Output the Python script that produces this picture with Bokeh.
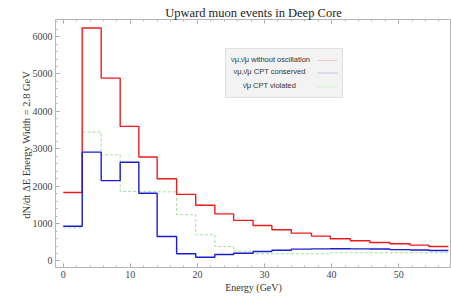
from bokeh.plotting import figure
from bokeh.models import BoxAnnotation, LinearAxis, FixedTicker, Label
from bokeh.embed import file_html
from bokeh.resources import INLINE

# ---- data ----
bin_edges = [0, 2.83, 5.66, 8.49, 11.27, 14.0, 16.9, 19.75, 22.6, 25.4, 28.3,
             31.1, 34.0, 37.0, 39.8, 42.8, 45.7, 48.7, 51.7, 54.5, 57.4]
no_osc = [1830, 6230, 4890, 3600, 2780, 2200, 1780, 1490, 1260, 1085,
          950, 835, 745, 665, 595, 540, 493, 460, 425, 388]
cpt_conserved = [930, 2910, 2150, 2640, 1810, 655, 193, 102, 174, 209,
                 254, 289, 316, 325, 328, 325, 320, 305, 295, 280]
cpt_violated = [885, 3445, 2840, 1860, 1860, 1850, 1240, 700, 388, 262,
                193, 193, 193, 193, 220, 220, 220, 220, 220, 220]
x_ticks = [0, 10, 20, 30, 40, 50]
y_ticks = [0, 1000, 2000, 3000, 4000, 5000, 6000]

title_text = "Upward muon events in Deep Core"
x_label = "Energy (GeV)"
y_label = "dN/dt \u0394E  Energy Width = 2.8 GeV"
legend_labels = ["\u03bd\u03bc,\u03bd\u0304\u03bc without oscillation",
                 "\u03bd\u03bc,\u03bd\u0304\u03bc  CPT conserved",
                 "\u03bd\u0304\u03bc  CPT violated"]

RED = "#ec1c1c"
BLUE = "#1c1cd4"
GREEN = "#9ee39e"
SERIF = "Liberation Serif"
SANS = "Liberation Sans"

p = figure(width=451, height=298, x_range=(-1.15, 57.87), y_range=(-174, 6457),
           output_backend="svg", toolbar_location=None,
           min_border_left=55, min_border_right=0, min_border_top=19, min_border_bottom=31)
p.xaxis.visible = False
p.yaxis.visible = False
p.grid.visible = False
p.outline_line_color = "#b5b5b5"
p.outline_line_width = 1
p.background_fill_color = "white"
p.border_fill_color = "white"

p.title.text = title_text
p.title.text_font = SERIF
p.title.text_font_size = "12.5px"
p.title.text_font_style = "normal"
p.title.text_color = "#222222"
p.title.align = "center"
p.title.standoff = 0
p.title.offset = 0


def style_axis(ax):
    ax.axis_line_color = None
    ax.major_tick_in = 4
    ax.major_tick_out = 0
    ax.minor_tick_in = 2
    ax.minor_tick_out = 0
    ax.major_tick_line_color = "#a0a0a0"
    ax.minor_tick_line_color = "#b8b8b8"
    ax.major_label_text_font = SERIF
    ax.major_label_text_color = "#444444"
    ax.major_label_text_font_size = "10px"
    ax.major_label_standoff = 3
    ax.axis_label_text_font = SERIF
    ax.axis_label_text_font_style = "normal"
    ax.axis_label_text_color = "#333333"


xt = FixedTicker(ticks=x_ticks, minor_ticks=[v * 2 for v in range(-1, 30)])
yt = FixedTicker(ticks=y_ticks, minor_ticks=[v * 200 for v in range(-1, 33)])
ax_b = LinearAxis(ticker=xt, axis_label=x_label)
ax_t = LinearAxis(ticker=xt)
ax_l = LinearAxis(ticker=yt, axis_label=y_label)
style_axis(ax_b)
style_axis(ax_t)
style_axis(ax_l)
# top frame: ticks only, no tick labels drawn
ax_t.major_label_text_color = None
ax_t.major_label_text_alpha = 0
ax_t.major_label_text_font_size = "1px"
ax_t.major_label_standoff = 0
ax_b.axis_label_text_font_size = "10px"
ax_b.axis_label_standoff = 1
ax_l.axis_label_text_font_size = "10.5px"
ax_l.axis_label_standoff = -2
p.add_layout(ax_b, "below")
p.add_layout(ax_t, "above")
p.add_layout(ax_l, "left")

# step histograms
def step_xy(vals):
    return bin_edges, list(vals) + [vals[-1]]

xs, ys = step_xy(cpt_violated)
p.step(xs, ys, mode="after", line_color=GREEN, line_width=1, line_dash="3 2")
xs, ys = step_xy(no_osc)
p.step(xs, ys, mode="after", line_color=RED, line_width=1.4)
xs, ys = step_xy(cpt_conserved)
p.step(xs, ys, mode="after", line_color=BLUE, line_width=1.4)

# legend (screen units: x from frame left, y up from frame bottom)
p.add_layout(BoxAnnotation(left=170, right=287, bottom=170, top=219,
                           left_units="screen", right_units="screen",
                           bottom_units="screen", top_units="screen",
                           fill_color="#f3f3f3", fill_alpha=1,
                           line_color="#a8a8a8", line_width=1))
rows_y = [208.5, 196, 182]
sample_colors = ["#f2a3a3", "#a3a8e6", "#a8e6a8"]
sample_dash = ["solid", "solid", "3 2"]
for lbl, ry, col, dash in zip(legend_labels, rows_y, sample_colors, sample_dash):
    p.add_layout(Label(x=215, y=ry, x_units="screen", y_units="screen", text=lbl,
                       text_font=SANS, text_font_size="7.5px", text_color="#333333",
                       text_align="center", text_baseline="middle"))
    p.add_layout(BoxAnnotation(left=262, right=282, bottom=ry - 1.5, top=ry - 1.5,
                               left_units="screen", right_units="screen",
                               bottom_units="screen", top_units="screen",
                               fill_alpha=0, line_color=col, line_width=1,
                               line_dash=dash))

open("out.html", "w").write(file_html(p, INLINE))
